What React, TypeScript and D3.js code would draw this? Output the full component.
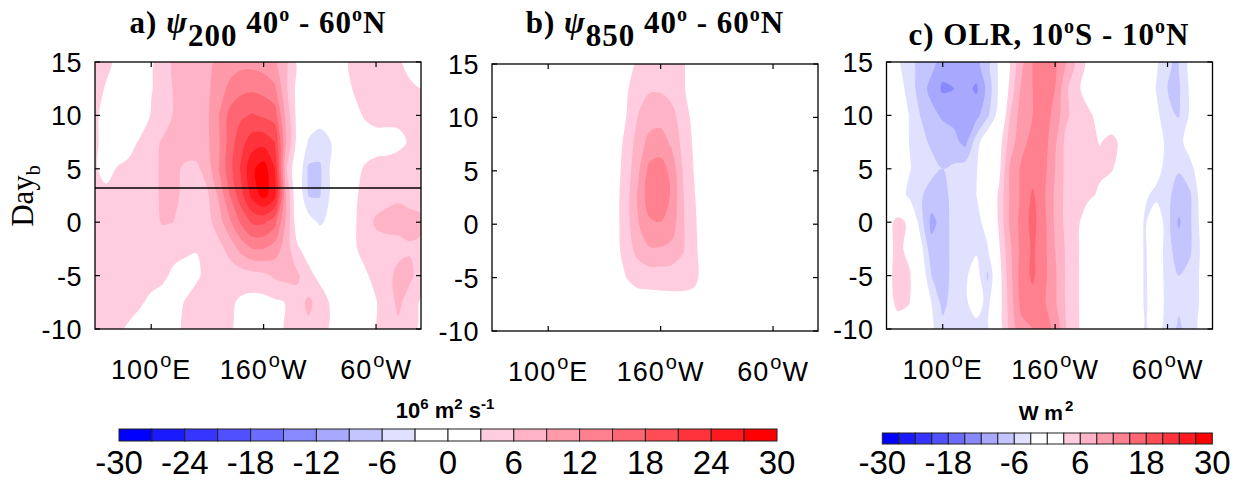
import React from "react";
import * as d3 from "d3";

// grid: longitude (deg E) x lag day
const LONS = [50, 60, 70, 80, 90, 100, 110, 120, 130, 140, 150, 160, 170, 180, 190, 200, 210, 220, 230, 240, 250, 260, 270, 280, 290, 300, 310, 320, 330, 340];
const DAYS = [15, 12.5, 10, 7.5, 5, 2.5, 0, -2.5, -5, -7.5, -10];

// a) streamfunction 200 hPa, 40-60N (10^6 m2/s)
const PSI200 = [
  [4.5, 3.5, 2.5, 1.5, 1.5, 2.5, 4.5, 6.5, 7.5, 8, 8.5, 9.5, 10.5, 11, 11, 10.5, 9.5, 6.5, 2.5, 1.5, 1, 1.5, 2.5, 3.5, 4, 4, 3.8, 3.2, 2.5, 2.5],
  [3.8, 2.8, 1.5, 1, 1.2, 2.8, 4.5, 6.2, 7, 7.5, 8.5, 10.5, 12.8, 14.2, 14.5, 14, 12.5, 6.5, 2, 0.5, 0, 0.5, 1.5, 3.2, 3.8, 4, 4, 3.8, 3.3, 3],
  [3.5, 2, 1, 0.5, 0.5, 3.3, 4.5, 6.2, 7, 7.5, 8.5, 12, 16, 17.5, 18.3, 17.5, 16.5, 8, 2, 0, -1.5, -1, 0.5, 2, 3.3, 3.8, 3.8, 3.5, 3.5, 3.2],
  [3.5, 2, 1, 1.5, 3.5, 5, 6.3, 7, 7.5, 8, 8.5, 11.5, 16.5, 20, 22.5, 23, 21, 9, 2, -3.5, -4.5, -3, 0, 1, 1.5, 2, 2, 2.5, 3.2, 3.5],
  [3.3, 2, 3.2, 4, 4.5, 5, 6.5, 6.8, 5.5, 5.2, 7.5, 12, 17, 21.5, 26.5, 28.5, 24, 6.5, 0, -6.5, -6.5, -2.5, 0, 2, 3.3, 3.8, 4, 4, 4, 3.8],
  [3.8, 3.8, 4, 4.2, 4.5, 5, 6.5, 6.5, 5.5, 5, 5.5, 9.5, 15, 20, 25, 28, 25, 9, 0, -6.2, -6.2, -2.5, 0, 2.5, 3.8, 4.5, 5.3, 5.8, 5.5, 5],
  [4, 4, 4.2, 4.5, 4.5, 5, 6.2, 6, 5, 4.5, 5, 7.5, 11.5, 15.5, 18.5, 18.5, 16, 8.5, 1, -1.5, -3.5, -2, 0.5, 2.5, 4.5, 6.5, 6.8, 6.5, 6.5, 6.5],
  [4.5, 4.5, 4.5, 4.5, 4.3, 4.2, 4, 3.8, 3.5, 3.1, 3.8, 5, 7, 10, 12, 12, 10.5, 7.5, 3.5, 1.5, 0.5, 0.5, 1, 2.5, 4, 4.5, 5, 5.5, 5.8, 5.5],
  [4.5, 4.5, 4.5, 4.2, 4, 3.8, 3.5, 2.5, 2, 2.5, 3.8, 4.2, 4.5, 4.5, 4.8, 5.3, 6.5, 7, 6.5, 4, 2, 1, 1, 1.5, 2.5, 4, 5.5, 6.5, 6.5, 5],
  [4.5, 4.3, 4, 3.8, 3.3, 2.5, 2, 2.2, 3.1, 4.2, 4.5, 4, 3.5, 2.5, 2, 2, 2.5, 3.1, 5, 6.5, 5, 2.5, 1.5, 1, 2, 2.8, 5, 6.5, 5, 2.5],
  [4, 3.5, 3.4, 2.7, 2, 1.5, 1.5, 2, 3.5, 4, 4.2, 3.8, 3.2, 2.5, 2, 2, 2.3, 3.2, 4.5, 5.5, 4.5, 2.5, 1.5, 1, 1.5, 3, 4.5, 5.5, 4, 2.5],
];

// b) streamfunction 850 hPa, 40-60N
const PSI850 = [
  [0.5, 0.5, 0.5, 0.5, 0.5, 0.5, 0.5, 0.5, 0.5, 0.5, 0.8, 1.2, 2, 3.5, 4, 4, 3.8, 3.3, 1.5, 0.8, 0.5, 0.5, 0.5, 0.5, 0.5, 0.5, 0.5, 0.5, 0.5, 0.5],
  [0.5, 0.5, 0.5, 0.5, 0.5, 0.5, 0.5, 0.5, 0.5, 0.5, 0.8, 1.5, 2.8, 4.5, 5.8, 5.8, 5, 3.5, 1, 0.5, 0.5, 0.5, 0.5, 0.5, 0.5, 0.5, 0.5, 0.5, 0.5, 0.5],
  [0.5, 0.5, 0.5, 0.5, 0.5, 0.5, 0.5, 0.5, 0.5, 0.5, 0.8, 1.5, 3.1, 6.2, 7.8, 8, 7, 4.5, 2, 0.5, 0.5, 0.5, 0.5, 0.5, 0.5, 0.5, 0.5, 0.5, 0.5, 0.5],
  [0.5, 0.5, 0.5, 0.5, 0.5, 0.5, 0.5, 0.5, 0.5, 0.5, 0.8, 1.5, 4, 7.5, 10, 10.5, 8.5, 5, 2.5, 0.5, 0.5, 0.5, 0.5, 0.5, 0.5, 0.5, 0.5, 0.5, 0.5, 0.5],
  [0.5, 0.5, 0.5, 0.5, 0.5, 0.5, 0.5, 0.5, 0.5, 0.5, 0.8, 1.8, 4.5, 8.5, 13, 13.5, 11, 5.8, 2.8, 0.5, 0.5, 0.5, 0.5, 0.5, 0.5, 0.5, 0.5, 0.5, 0.5, 0.5],
  [0.5, 0.5, 0.5, 0.5, 0.5, 0.5, 0.5, 0.5, 0.5, 0.5, 1, 2, 5, 9.5, 13.5, 14, 11.5, 6.2, 3.2, 1, 0.5, 0.5, 0.5, 0.5, 0.5, 0.5, 0.5, 0.5, 0.5, 0.5],
  [0.5, 0.5, 0.5, 0.5, 0.5, 0.5, 0.5, 0.5, 0.5, 0.5, 1, 2, 5, 8.8, 11.5, 11.8, 10.5, 6.3, 3.5, 1, 0.5, 0.5, 0.5, 0.5, 0.5, 0.5, 0.5, 0.5, 0.5, 0.5],
  [0.5, 0.5, 0.5, 0.5, 0.5, 0.5, 0.5, 0.5, 0.5, 0.5, 1, 2, 4.5, 7, 8.5, 8.5, 8, 6.2, 3.8, 1, 0.5, 0.5, 0.5, 0.5, 0.5, 0.5, 0.5, 0.5, 0.5, 0.5],
  [0.5, 0.5, 0.5, 0.5, 0.5, 0.5, 0.5, 0.5, 0.5, 0.5, 0.8, 1.5, 3.1, 4, 4.2, 4.2, 4.2, 4.2, 3.8, 1.5, 0.5, 0.5, 0.5, 0.5, 0.5, 0.5, 0.5, 0.5, 0.5, 0.5],
  [0.5, 0.5, 0.5, 0.5, 0.5, 0.5, 0.5, 0.5, 0.5, 0.5, 0.5, 1, 1.2, 1.5, 1.5, 1.7, 1.8, 1.8, 1.6, 1, 0.5, 0.5, 0.5, 0.5, 0.5, 0.5, 0.5, 0.5, 0.5, 0.5],
  [0.5, 0.5, 0.5, 0.5, 0.5, 0.5, 0.5, 0.5, 0.5, 0.5, 0.5, 0.8, 1, 1, 1, 1, 1, 1, 1, 0.8, 0.5, 0.5, 0.5, 0.5, 0.5, 0.5, 0.5, 0.5, 0.5, 0.5],
];

// c) OLR, 10S-10N (W m-2)
const OLR = [
  [0, -2.5, -5, -7, -8, -10.5, -10, -9, -10, -7, -2.5, 3, 8, 12, 14, 12.5, 9, 5, 2, 0.5, 0, 0, 0, 0, -2.5, -5.8, -6.3, -2, 0, 0],
  [0, -1.5, -4, -7.5, -10, -12.5, -12, -11, -12.5, -8, -2.5, 4, 9.5, 12, 14, 12, 6.5, 3.5, 1.5, 0.5, 0, 0, 0, 0, -3.2, -6, -6.5, -2.5, 0, 0],
  [0, -0.5, -3, -6, -8, -9.5, -10, -11.5, -10, -6.5, -1.5, 6, 10.5, 12, 13.5, 11, 6.5, 4.5, 3.5, 2, 1.5, 0, 0, 0, -2, -5.5, -6.2, -2.5, 0, 0],
  [0, -1, -3, -5, -6.5, -7, -8, -10, -4.5, 0, 1.5, 7.5, 11, 13, 13.5, 9.5, 5, 4, 3.5, 2.9, 3.6, 2.5, 1, 0.5, -1, -4, -4, -1.5, 0, 0],
  [0, -1, -2.8, -4, -5, -6, -5.5, -4.5, -3.2, -0.5, 2, 9.5, 12.5, 13.5, 13, 9, 5, 4, 3.3, 3.5, 3.3, 1.5, 1, 0, -1.5, -4.5, -5.8, -4, -1, 0],
  [0, -1.5, -3.5, -5.5, -7.5, -7, -5, -4, -3, -0.5, 3.5, 9.5, 12.5, 15.5, 12.5, 8.5, 5, 4, 3.5, 2.5, 1, 0, 0, -2.5, -4, -5.5, -7, -6.5, -1.5, 0],
  [1.5, 4, 2.5, -4.5, -9.8, -8, -4.5, -4, -3.8, -2, 3.5, 9.5, 13, 16, 13, 8.5, 5, 3.5, 1, 0, 0, 0, 0, -3.5, 0, -5, -9.5, -6.5, -2, 0],
  [1.5, 4, 2, -1.5, -8, -8, -4.5, -3.5, -3.5, -3.2, 2.5, 8.5, 13, 15.5, 13, 9, 5.5, 3.3, 1, 0, 0, 0, 0, -3.5, 0, -5, -7.5, -6.5, -2.5, 0],
  [1.5, 4.5, 3.5, 0, -6, -8, -4.5, -3.5, -1.5, -6.5, 1.5, 8, 13.5, 15.5, 13, 9.5, 5.5, 3.3, 1, 0, 0, 0, 0, -3.5, -0.5, -4.5, -6, -5, -2.5, 0],
  [1, 4, 3.2, 0.5, -3, -7, -4.5, -3.5, -1.5, -4, 1.5, 7.5, 13, 14, 12.5, 9.5, 5.5, 3.3, 1, 0, 0, 0, 0, -3.5, -1, -4, -5.5, -5, -2.5, 0],
  [0, 1, 1, 0, -2.5, -5, -5, -4.5, -4, -3.5, 1, 7, 11, 12, 13.5, 11, 6, 3.3, 1, 0, 0, 0, 0, -3.5, -1.5, -4.5, -6.5, -5, -2, 0],
];

const LEVELS = [-27, -24, -21, -18, -15, -12, -9, -6, -3, 0, 3, 6, 9, 12, 15, 18, 21, 24, 27];
const COLORS = [
  "#0000ff", "#1a1aff", "#3535ff", "#5050ff", "#6b6bff", "#8989ff", "#a8a8ff", "#c4c4ff", "#e0e0ff", "#ffffff",
  "#ffffff", "#ffcce0", "#ffb3c6", "#ff9aaa", "#ff808e", "#ff6673", "#ff4d57", "#ff333b", "#ff1a1f", "#ff0000",
];
const CB_PSI_TICKS = [-30, -24, -18, -12, -6, 0, 6, 12, 18, 24, 30];
const CB_OLR_TICKS = [-30, -18, -6, 6, 18, 30];
const X_TICKS = [100, 200, 300];
const X_LABELS = [["100", "E"], ["160", "W"], ["60", "W"]];
const Y_TICKS = [15, 10, 5, 0, -5, -10];
const DAY_LINE = 3.2;

const SANS = "'Liberation Sans', Arial, Helvetica, sans-serif";
const SERIF = "'Liberation Serif', 'Times New Roman', serif";
const PW = 326;
const PH = 267;

const PANELS = [
  { key: "a", grid: PSI200, left: 95, top: 62 },
  { key: "b", grid: PSI850, left: 492, top: 64 },
  { key: "c", grid: OLR, left: 886.5, top: 62 },
];

function Field({ grid, x, y }) {
  const n = LONS.length;
  const m = DAYS.length;
  const values = grid.flat();
  const lo = d3.min(values);
  const start = d3.max(LEVELS.filter((t) => t <= lo));
  const levels = start === undefined ? LEVELS : LEVELS.filter((t) => t >= start);
  const contours = d3.contours().size([n, m]).thresholds(levels)(values);
  const dLon = LONS[1] - LONS[0];
  const dDay = DAYS[1] - DAYS[0];
  // d3.contours puts sample k at k + 0.5
  const px = (c) => x(LONS[0] + (c - 0.5) * dLon);
  const py = (r) => y(DAYS[0] + (r - 0.5) * dDay);
  const line = d3.line().curve(d3.curveCatmullRomClosed.alpha(0.5));

  return (
    <g>
      {contours.map((c) => {
        const d = c.coordinates
          .map((poly) => poly.map((ring) => line(ring.slice(0, -1).map(([a, b]) => [px(a), py(b)]))).join(""))
          .join("");
        return <path key={c.value} d={d} fill={COLORS[(c.value + 30) / 3]} />;
      })}
    </g>
  );
}

function Panel({ id, grid, left, top, line }) {
  const x = d3.scaleLinear().domain([50, 340]).range([left, left + PW]);
  const y = d3.scaleLinear().domain([15, -10]).range([top, top + PH]);
  return (
    <g>
      <clipPath id={`clip-${id}`}>
        <rect x={left} y={top} width={PW} height={PH} />
      </clipPath>
      <g clipPath={`url(#clip-${id})`}>
        <Field grid={grid} x={x} y={y} />
        {line && <line x1={left} x2={left + PW} y1={y(DAY_LINE)} y2={y(DAY_LINE)} stroke="#000" strokeWidth={1.5} />}
      </g>
      <rect x={left} y={top} width={PW} height={PH} fill="none" stroke="#000" strokeWidth={1.3} />
      {Y_TICKS.map((t) => (
        <g key={t}>
          <line x1={left} x2={left + 5} y1={y(t)} y2={y(t)} stroke="#000" strokeWidth={1.2} />
          <line x1={left + PW} x2={left + PW - 5} y1={y(t)} y2={y(t)} stroke="#000" strokeWidth={1.2} />
          <text x={left - 13} y={y(t) + 10} textAnchor="end" fontFamily={SANS} fontSize={27} letterSpacing={0.5}>
            {t}
          </text>
        </g>
      ))}
      {X_TICKS.map((t, i) => (
        <g key={t}>
          <line x1={x(t)} x2={x(t)} y1={top + PH} y2={top + PH - 5} stroke="#000" strokeWidth={1.2} />
          <line x1={x(t)} x2={x(t)} y1={top} y2={top + 5} stroke="#000" strokeWidth={1.2} />
          <text x={x(t)} y={top + PH + 50} textAnchor="middle" fontFamily={SANS} fontSize={27} letterSpacing={1}>
            {X_LABELS[i][0]}
            <tspan dy={-12} dx={1} fontSize={20}>o</tspan>
            <tspan dy={12}>{X_LABELS[i][1]}</tspan>
          </text>
        </g>
      ))}
    </g>
  );
}

function ColorBar({ x0, x1, top, h, ticks }) {
  const x = d3.scaleLinear().domain([-30, 30]).range([x0, x1]);
  const edges = d3.range(-30, 30, 3);
  return (
    <g>
      {edges.map((e, i) => (
        <rect key={e} x={x(e)} y={top} width={x(e + 3) - x(e)} height={h} fill={COLORS[i]} stroke="#222" strokeWidth={1} />
      ))}
      {ticks.map((t) => (
        <text key={t} x={x(t)} y={474} textAnchor="middle" fontFamily={SANS} fontSize={33}>
          {t}
        </text>
      ))}
    </g>
  );
}

export default function App() {
  return (
    <svg width={1242} height={480} style={{ position: "absolute", left: 0, top: 0, background: "#fff" }}>
      <rect width={1242} height={480} fill="#fff" />
      {PANELS.map((p) => (
        <Panel key={p.key} id={p.key} grid={p.grid} left={p.left} top={p.top} line={p.key === "a"} />
      ))}

      <text x={258} y={33} textAnchor="middle" fontFamily={SERIF} fontWeight="bold" fontSize={31} letterSpacing={1}>
        {"a) "}
        <tspan fontStyle="italic">ψ</tspan>
        <tspan dy={13}>200</tspan>
        <tspan dy={-13}>{" 40"}</tspan>
        <tspan dy={-12} fontSize={20}>o</tspan>
        <tspan dy={12}>{" - 60"}</tspan>
        <tspan dy={-12} fontSize={20}>o</tspan>
        <tspan dy={12}>N</tspan>
      </text>
      <text x={655} y={33} textAnchor="middle" fontFamily={SERIF} fontWeight="bold" fontSize={31} letterSpacing={1}>
        {"b) "}
        <tspan fontStyle="italic">ψ</tspan>
        <tspan dy={13}>850</tspan>
        <tspan dy={-13}>{" 40"}</tspan>
        <tspan dy={-12} fontSize={20}>o</tspan>
        <tspan dy={12}>{" - 60"}</tspan>
        <tspan dy={-12} fontSize={20}>o</tspan>
        <tspan dy={12}>N</tspan>
      </text>
      <text x={1049} y={45} textAnchor="middle" fontFamily={SERIF} fontWeight="bold" fontSize={31} letterSpacing={1}>
        {"c) OLR, 10"}
        <tspan dy={-12} fontSize={20}>o</tspan>
        <tspan dy={12}>{"S - 10"}</tspan>
        <tspan dy={-12} fontSize={20}>o</tspan>
        <tspan dy={12}>N</tspan>
      </text>

      <text transform="translate(33,196) rotate(-90)" textAnchor="middle" fontFamily={SERIF} fontSize={31}>
        Day
        <tspan dy={7} fontSize={20}>b</tspan>
      </text>

      <ColorBar x0={119} x1={777} top={429} h={12} ticks={CB_PSI_TICKS} />
      <text x={445} y={418} textAnchor="middle" fontFamily={SANS} fontWeight="bold" fontSize={22}>
        10
        <tspan dy={-9} fontSize={15}>6</tspan>
        <tspan dy={9}>{" m"}</tspan>
        <tspan dy={-9} fontSize={15}>2</tspan>
        <tspan dy={9}>{" s"}</tspan>
        <tspan dy={-9} fontSize={15}>-1</tspan>
      </text>

      <ColorBar x0={882.3} x1={1212.3} top={433} h={11} ticks={CB_OLR_TICKS} />
      <text x={1046} y={420} textAnchor="middle" fontFamily={SANS} fontWeight="bold" fontSize={21}>
        {"W m"}
        <tspan dy={-9} dx={2} fontSize={15}>2</tspan>
      </text>
    </svg>
  );
}
